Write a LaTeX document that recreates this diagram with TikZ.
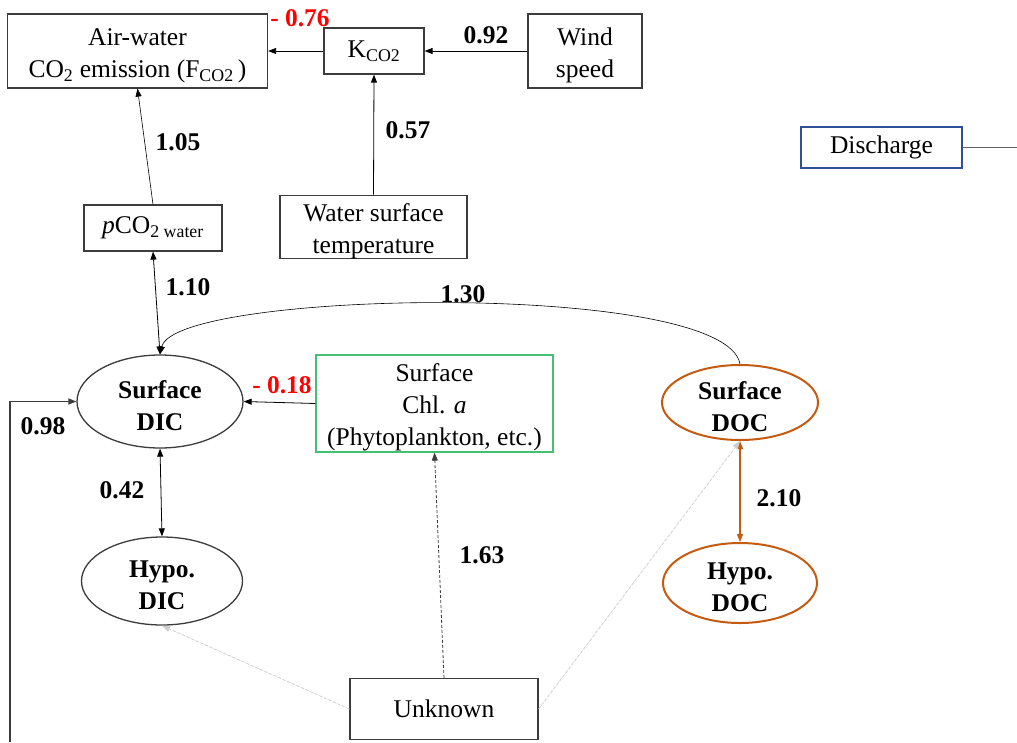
\documentclass[tikz,border=0pt]{standalone}
\usepackage{fontspec}
\setmainfont{Liberation Serif}
\usetikzlibrary{arrows.meta,shapes.geometric}

\definecolor{boxgray}{RGB}{60,60,60}
\definecolor{docorange}{RGB}{197,90,17}
\definecolor{chlgreen}{RGB}{70,190,115}
\definecolor{dischblue}{RGB}{47,80,150}
\definecolor{faintgray}{RGB}{205,205,205}
\definecolor{negred}{RGB}{255,0,0}

\newcommand{\mainfs}{\fontsize{25.5}{32}\selectfont}
% taller first line, so that stacked lines sit a little lower in their frame
\newcommand{\tallstrut}{\rule{0pt}{26pt}}

\tikzset{
  box/.style={draw=boxgray, line width=1.2pt, rectangle, inner sep=0pt,
              align=center, font=\mainfs},
  oval/.style={draw=boxgray, line width=1.3pt, ellipse, inner xsep=0pt, inner ysep=-5pt,
               align=center, font=\mainfs\bfseries},
  num/.style={font=\mainfs\bfseries, inner sep=0pt},
  arr/.style={-{Triangle[length=8pt,width=6pt]}, line width=0.8pt, draw=black},
  biarr/.style={{Triangle[length=8pt,width=6pt]}-{Triangle[length=8pt,width=6pt]},
                line width=0.8pt, draw=black},
}

\begin{document}
\begin{tikzpicture}[x=1pt,y=-1pt]
  \useasboundingbox[fill=white] (0,0) rectangle (1017,742);

  % boxes
  \node[box, minimum width=260pt, minimum height=74pt] (air) at (137.5,51)
       {\tallstrut Air-water\\CO\textsubscript{2} emission (F\textsubscript{CO2}\,)};
  \node[box, minimum width=100pt, minimum height=46pt] (kco2) at (374,51)
       {K\textsubscript{CO2}};
  \node[box, minimum width=114pt, minimum height=74pt] (wind) at (585,51)
       {\tallstrut Wind\\speed};
  \node[box, draw=dischblue, minimum width=161pt, minimum height=41pt] (disch) at (881.5,147.5)
       {Discharge};
  \node[box, minimum width=138pt, minimum height=46pt] (pco2) at (153,228)
       {\textit{p}CO\textsubscript{2 water}};
  \node[box, minimum width=187pt, minimum height=62pt] (wst) at (373.5,227)
       {\tallstrut Water surface\\temperature};
  \node[box, draw=chlgreen, minimum width=237pt, minimum height=97pt] (chl) at (434.5,403.5)
       {\tallstrut Surface\\Chl. \textit{a}\\(Phytoplankton, etc.)};
  \node[box, minimum width=188pt, minimum height=61pt] (unk) at (444,709)
       {Unknown};

  % ellipses
  \node[oval, minimum width=166pt, minimum height=93pt] (sdic) at (160,401.5)
       {\tallstrut Surface\\DIC};
  \node[oval, minimum width=161pt, minimum height=88pt] (hdic) at (162,581)
       {\tallstrut Hypo.\\DIC};
  \node[oval, draw=docorange, line width=2pt, minimum width=156pt, minimum height=75pt] (sdoc) at (740,402.5)
       {\tallstrut Surface\\DOC};
  \node[oval, draw=docorange, line width=2pt, minimum width=154pt, minimum height=80pt] (hdoc) at (740,583)
       {\tallstrut Hypo.\\DOC};

  % free ends
  \coordinate (dischend) at (1017,147.5);
  \coordinate (loopstart) at (10,742);

  % connectors
  \draw[arr] (kco2.west) -- (air.east);
  \draw[arr] (wind.west) -- (kco2.east);
  \draw[arr] (wst.north) -- (kco2.south);
  \draw[arr, line width=0.6pt] (pco2.north) -- (air.south);
  \draw[biarr] (pco2.south) -- (sdic.north);
  \draw[arr, line width=0.6pt] (sdoc.north) .. controls (725,280) and (175,290) .. (sdic.north);
  \draw[arr] (chl.west) -- (sdic.east);
  \draw[biarr] (sdic.south) -- (hdic.north);
  \draw[biarr, draw=docorange, fill=docorange, line width=1.2pt] (sdoc.south) -- (hdoc.north);
  \draw[arr, draw=boxgray, densely dashed, line width=0.8pt] (unk.north) -- (chl.south);
  \draw[arr, draw=faintgray, fill=faintgray, densely dashed, line width=0.7pt] (unk.west) -- (hdic.south);
  \draw[arr, draw=faintgray, fill=faintgray, densely dashed, line width=0.7pt] (unk.east) -- (sdoc.south);
  \draw[draw=boxgray!80, line width=1.5pt] (disch.east) -- (dischend);
  \draw[arr, draw=boxgray, line width=1.3pt] (loopstart) |- (sdic.west);

  % path coefficients
  \node[num, text=negred] (l076) at (300,18) {- 0.76};
  \node[num] (l092) at (486,35) {0.92};
  \node[num] (l057) at (408,130) {0.57};
  \node[num] (l105) at (178,142) {1.05};
  \node[num] (l110) at (188,287) {1.10};
  \node[num] (l130) at (463,294) {1.30};
  \node[num, text=negred] (l018) at (282,385) {- 0.18};
  \node[num] (l098) at (43,426) {0.98};
  \node[num] (l042) at (122,490) {0.42};
  \node[num] (l163) at (482,555) {1.63};
  \node[num] (l210) at (779,498) {2.10};
\end{tikzpicture}
\end{document}
